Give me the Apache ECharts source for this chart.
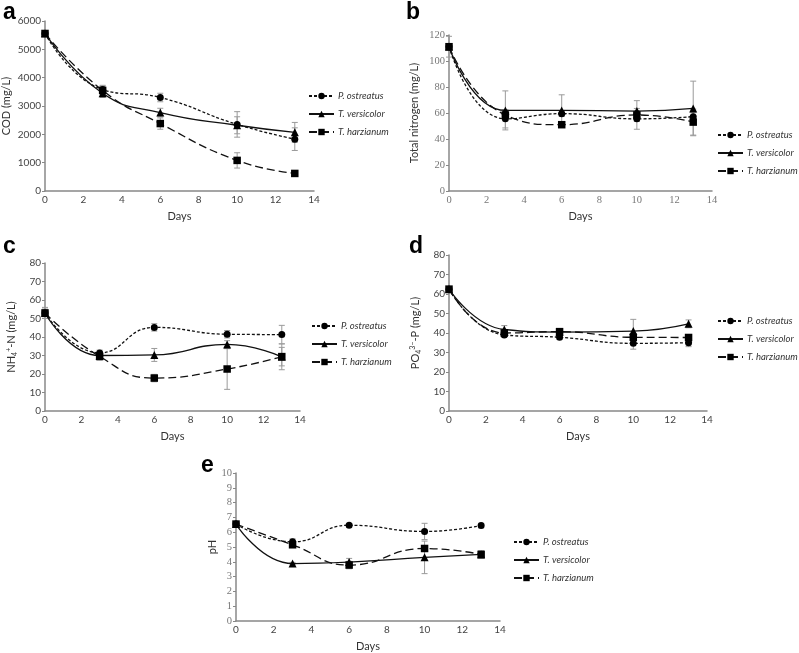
<!DOCTYPE html>
<html><head><meta charset="utf-8">
<script src="https://cdn.jsdelivr.net/npm/echarts@6/dist/echarts.min.js"></script>
<style>html,body{margin:0;padding:0;background:#fff}#c{width:799px;height:653px}</style>
</head><body><div id="c"></div>
<script>
const days = [0, 3, 6, 10, 13];
const names = ['P. ostreatus', 'T. versicolor', 'T. harzianum'];
const xTicks = [0, 2, 4, 6, 8, 10, 12, 14];

// a: COD (mg/L)
const codPO = [5560, 3580, 3300, 2350, 1830];
const codTV = [5560, 3450, 2770, 2320, 2070];
const codTH = [5560, 3550, 2380, 1080, 620];
const codPOerr = [0, 150, 150, 450, 400];
const codTVerr = [0, 150, 150, 300, 350];
const codTHerr = [0, 150, 200, 270, 80];

// b: Total nitrogen (mg/L)
const tnPO = [111, 55.5, 59.5, 55.5, 57.2];
const tnTV = [111, 62, 62, 61.5, 63.5];
const tnTH = [111, 58.5, 51, 58.5, 53];
const tnPOerr = [2, 7, 2, 8, 3];
const tnTVerr = [8, 15, 12, 8, 21];
const tnTHerr = [2, 3, 2, 3, 10];

// c: NH4+-N (mg/L)
const nhPO = [53, 31.4, 45.2, 41.5, 41.3];
const nhTV = [53, 30, 30.3, 36, 29.3];
const nhTH = [53, 29.5, 17.8, 22.7, 29.4];
const nhPOerr = [3, 1.5, 2, 2, 5];
const nhTVerr = [2, 1.5, 3.5, 2, 7];
const nhTHerr = [2, 2, 2, 11, 5];

// d: PO4 3- -P (mg/L)
const poPO = [62.5, 39, 37.8, 34.7, 35];
const poTV = [62.5, 41.8, 40.5, 41, 44.7];
const poTH = [62.5, 40, 40.7, 37.8, 37.7];
const poPOerr = [1, 1, 1, 3, 2];
const poTVerr = [1, 2, 1, 6, 2];
const poTHerr = [1, 1, 1, 1, 1];

// e: pH
const phPO = [6.55, 5.35, 6.47, 6.05, 6.45];
const phTV = [6.55, 3.88, 3.98, 4.3, 4.5];
const phTH = [6.55, 5.15, 3.78, 4.9, 4.5];
const phPOerr = [0.1, 0.2, 0.12, 0.55, 0.15];
const phTVerr = [0.1, 0.08, 0.25, 1.1, 0.25];
const phTHerr = [0.1, 0.15, 0.25, 0.1, 0.15];

const panels = [
  { letter: 'a', grid: { left: 45, top: 21, width: 269, height: 170 }, ymax: 6000, yint: 1000,
    yname: 'COD (mg/L)', ygap: 33, serifY: false, serifX: false,
    vals: [codPO, codTV, codTH], errs: [codPOerr, codTVerr, codTHerr],
    legend: { left: 308, top: 91 }, letterPos: [3, 1] },
  { letter: 'b', grid: { left: 449, top: 35, width: 263, height: 156 }, ymax: 120, yint: 20,
    yname: 'Total nitrogen (mg/L)', ygap: 29, serifY: true, serifX: true,
    vals: [tnPO, tnTV, tnTH], errs: [tnPOerr, tnTVerr, tnTHerr],
    legend: { left: 717, top: 130 }, letterPos: [406, 1] },
  { letter: 'c', grid: { left: 45, top: 263, width: 255, height: 148 }, ymax: 80, yint: 10,
    yname: 'NH{sub|4}{sup|+}-N (mg/L)', ygap: 27, serifY: false, serifX: false,
    vals: [nhPO, nhTV, nhTH], errs: [nhPOerr, nhTVerr, nhTHerr],
    legend: { left: 311, top: 321 }, letterPos: [3, 235] },
  { letter: 'd', grid: { left: 449, top: 255, width: 258, height: 156 }, ymax: 80, yint: 10,
    yname: 'PO{sub|4}{sup|3−}-P (mg/L)', ygap: 27, serifY: false, serifX: false,
    vals: [poPO, poTV, poTH], errs: [poPOerr, poTVerr, poTHerr],
    legend: { left: 717, top: 316 }, letterPos: [409, 235] },
  { letter: 'e', grid: { left: 236, top: 473, width: 264, height: 155 }, ymax: 10, yint: 1,
    yname: 'pH', ygap: 14, serifY: true, serifX: false,
    vals: [phPO, phTV, phTH], errs: [phPOerr, phTVerr, phTHerr],
    legend: { left: 513, top: 537 }, letterPos: [201, 454] }
];

const dashes = [[3, 2], 'solid', [8, 4]];
const symbols = ['circle', 'triangle', 'rect'];
const symSizes = [7, 8, 7.5];

const grids = [], xAxes = [], yAxes = [], series = [], legends = [], graphics = [];

function errRender(params, api) {
  const x = api.value(0), lo = api.value(1), hi = api.value(2);
  if (hi - lo <= 0) return null;
  const p1 = api.coord([x, hi]), p2 = api.coord([x, lo]);
  const w = 3, st = { stroke: '#9a9a9a', lineWidth: 1 };
  return { type: 'group', children: [
    { type: 'line', shape: { x1: p1[0], y1: p1[1], x2: p2[0], y2: p2[1] }, style: st },
    { type: 'line', shape: { x1: p1[0] - w, y1: p1[1], x2: p1[0] + w, y2: p1[1] }, style: st },
    { type: 'line', shape: { x1: p2[0] - w, y1: p2[1], x2: p2[0] + w, y2: p2[1] }, style: st }
  ]};
}

const serif = '"Liberation Serif", "DejaVu Serif", serif';
const sans = 'Lato, "Liberation Sans", sans-serif';
const plain = v => String(v);

panels.forEach((p, i) => {
  grids.push(Object.assign({ containLabel: false }, p.grid));
  xAxes.push({
    type: 'value', gridIndex: i, min: 0, max: 14, interval: 2,
    name: 'Days', nameLocation: 'middle', nameGap: 20,
    nameTextStyle: { fontFamily: sans, fontSize: 11, color: '#333' },
    axisLine: { lineStyle: { color: '#888', width: 1.5 } },
    axisTick: { show: false },
    axisLabel: { formatter: plain, fontFamily: p.serifX ? serif : sans, fontSize: p.serifX ? 10.5 : 10, color: p.serifX ? '#777' : '#444', margin: 4 },
    splitLine: { show: false }
  });
  yAxes.push({
    type: 'value', gridIndex: i, min: 0, max: p.ymax, interval: p.yint,
    name: p.yname, nameLocation: 'middle', nameGap: p.ygap,
    nameTextStyle: { fontFamily: sans, fontSize: 11, color: '#333',
      rich: { sub: { fontSize: 7, fontFamily: sans, color: '#333', padding: [6, 0, 0, 0] },
              sup: { fontSize: 7, fontFamily: sans, color: '#333', padding: [0, 0, 6, 0] } } },
    axisLine: { show: true, lineStyle: { color: '#888', width: 1.5 } },
    axisTick: { show: true, inside: false, length: 3, lineStyle: { color: '#888' } },
    axisLabel: { formatter: plain, fontFamily: p.serifY ? serif : sans, fontSize: p.serifY ? 10.5 : 10, color: p.serifY ? '#777' : '#444', margin: 4 },
    splitLine: { show: false }
  });
  p.vals.forEach((v, k) => {
    series.push({
      type: 'custom', name: names[k] + ' err', xAxisIndex: i, yAxisIndex: i,
      renderItem: errRender, z: 1, silent: true,
      data: days.map((d, j) => [d, v[j] - p.errs[k][j], v[j] + p.errs[k][j]])
    });
  });
  p.vals.forEach((v, k) => {
    series.push({
      type: 'line', name: names[k], xAxisIndex: i, yAxisIndex: i, smooth: 0.5,
      symbol: symbols[k], symbolSize: symSizes[k], z: 3,
      itemStyle: { color: '#000' },
      lineStyle: { color: '#111', width: 1.3, type: dashes[k] },
      data: days.map((d, j) => [d, v[j]])
    });
  });
  legends.push({
    orient: 'vertical', left: p.legend.left, top: p.legend.top, itemGap: 8, padding: 0,
    itemWidth: 25, itemHeight: 8, data: names, selectedMode: false,
    textStyle: { fontFamily: sans, fontStyle: 'italic', fontSize: 9.5, color: '#333', padding: [0, 0, 0, -1] }
  });
  graphics.push({ type: 'text', left: p.letterPos[0], top: p.letterPos[1],
    style: { text: p.letter, font: 'bold 23px "Liberation Sans", Arial, sans-serif', fill: '#000' } });
});

const chart = echarts.init(document.getElementById('c'), null, { renderer: 'canvas' });
chart.setOption({
  animation: false, backgroundColor: '#fff',
  grid: grids, xAxis: xAxes, yAxis: yAxes, series: series, legend: legends, graphic: graphics
});
</script></body></html>
